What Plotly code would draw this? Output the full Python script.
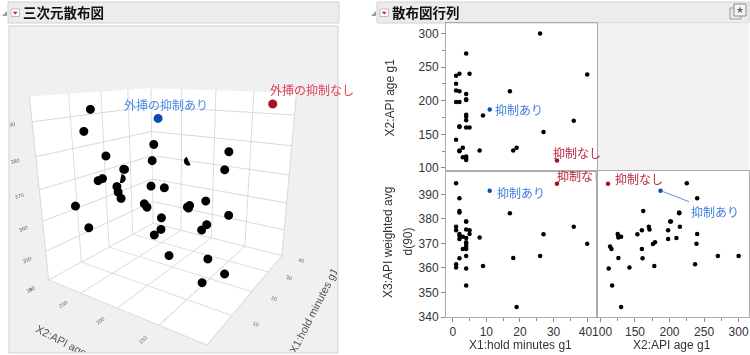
import plotly.graph_objects as go

# ---------------- data ----------------
x1_hold = [1, 2, 2, 2, 1, 1, 4, 4, 4, 5, 5, 2, 2, 3, 2, 1, 1, 4, 4, 4,
           4, 4, 2, 4, 4, 4, 3, 8, 9, 17, 18, 19, 26, 27, 36, 40]
x2_age = [225, 240, 162, 214, 215, 198, 202, 201, 171, 160, 240, 125, 126, 130, 198, 237, 142, 270, 210, 179,
          176, 160, 161, 117, 114, 112, 116, 126, 178, 214, 126, 130, 300, 153.5, 170, 239]
x3_wavg = [394.5, 388.4, 383.2, 382.6, 376.8, 375.4, 378.9, 378.9, 375.7, 375.4,
           373.8, 373.8, 373.1, 372.7, 371.8, 361.5, 360.2, 364.9, 372.2, 370.5,
           369.7, 367.7, 363.9, 352.8, 368.7, 359.8, 367.7, 372.4, 360.8, 382.3,
           364.0, 344.1, 364.9, 373.7, 376.8, 369.9]

# highlighted points: extrapolation control on / off
on_pt = dict(x1=11, x2=187, x3=391.5)
off_pt = dict(x1=31, x2=111, x3=394.3)

label3d_on = "外挿の抑制あり"
label3d_off = "外挿の抑制なし"
label_on = "抑制あり"
label_off = "抑制なし"

title_left = "三次元散布図"
title_right = "散布図行列"
name_x1 = "X1:hold minutes g1"
name_x2 = "X2:API age g1"
name_x3a = "X3:API weighted avg"
name_x3b = "d(90)"

x1_ticks = [0, 10, 20, 30, 40]
x1_ticktext = ["0", "10", "20", "30", "40\u00a0"]
x2_ticks = [100, 150, 200, 250, 300]
x2_ticktext = ["\u00a0100", "150", "200", "250", "300"]
x3_ticks = [340, 350, 360, 370, 380, 390]

# ---------------- styling ----------------
W, H = 750, 355
def px(v): return v / W
def py(v): return 1 - v / H

BLUE_PT, RED_PT = "#0b4db5", "#a80f25"
BLUE_TX, RED_TX = "#4a88e6", "#e23d55"
BLUE_TX2, RED_TX2 = "#3f7dd8", "#bb2540"
FONT = "Liberation Sans"
CJK = "Noto Sans CJK JP"

fig = go.Figure()

# ---------------- 3D scatter ----------------
m3 = 5.2
fig.add_trace(go.Scatter3d(x=x1_hold, y=x2_age, z=x3_wavg, mode="markers",
                           marker=dict(size=m3, color="black", line=dict(width=0)),
                           scene="scene", showlegend=False, hoverinfo="skip"))
fig.add_trace(go.Scatter3d(x=[on_pt["x1"]], y=[on_pt["x2"]], z=[on_pt["x3"]], mode="markers",
                           marker=dict(size=m3, color=BLUE_PT, line=dict(width=0)),
                           scene="scene", showlegend=False, hoverinfo="skip"))
fig.add_trace(go.Scatter3d(x=[off_pt["x1"]], y=[off_pt["x2"]], z=[off_pt["x3"]], mode="markers",
                           marker=dict(size=m3, color=RED_PT, line=dict(width=0)),
                           scene="scene", showlegend=False, hoverinfo="skip"))

ax3 = dict(showbackground=True, backgroundcolor="white", gridcolor="#d9d9d9",
           zeroline=False, showspikes=False, linecolor="#d0d0d0", showline=False,
           tickfont=dict(size=8, color="#666666", family=FONT),
           title=dict(font=dict(size=11, color="#555555", family=FONT)))

scene = dict(
    domain=dict(x=[px(10), px(337)], y=[py(352), py(27)]),
    bgcolor="#f0f0f0",
    aspectmode="cube",
    xaxis=dict(ax3, range=[0, 40], tickvals=x1_ticks, title=dict(ax3["title"], text=name_x1)),
    yaxis=dict(ax3, range=[100, 300], tickvals=x2_ticks, title=dict(ax3["title"], text=name_x2)),
    zaxis=dict(ax3, range=[340, 397], tickvals=x3_ticks,
               title=dict(ax3["title"], text=name_x3a + " " + name_x3b)),
    camera=dict(eye=dict(x=-1.759, y=-1.141, z=0.626), up=dict(x=0, y=0, z=1),
                center=dict(x=-0.001, y=-0.008, z=-0.016)),
    annotations=[
        dict(x=on_pt["x1"], y=on_pt["x2"], z=on_pt["x3"], text=label3d_on, showarrow=False,
             xanchor="center", xshift=8, yshift=14, font=dict(size=12, color=BLUE_TX, family=CJK)),
        dict(x=off_pt["x1"], y=off_pt["x2"], z=off_pt["x3"], text=label3d_off, showarrow=False,
             xanchor="left", xshift=-5, yshift=14, font=dict(size=12, color=RED_TX, family=CJK)),
    ],
)

# ---------------- scatterplot matrix ----------------
mk = dict(size=4.5, color="black")
pairs = [(x1_hold, x2_age, "x", "y"), (x1_hold, x3_wavg, "x2", "y2"), (x2_age, x3_wavg, "x3", "y3")]
for xs, ys, xa, ya in pairs:
    fig.add_trace(go.Scatter(x=xs, y=ys, mode="markers", marker=mk, xaxis=xa, yaxis=ya,
                             showlegend=False, hoverinfo="skip"))

cells = [("x1", "x2", "x", "y"), ("x1", "x3", "x2", "y2"), ("x2", "x3", "x3", "y3")]
for kx, ky, xa, ya in cells:
    fig.add_trace(go.Scatter(x=[on_pt[kx]], y=[on_pt[ky]], mode="markers",
                             marker=dict(size=4.5, color=BLUE_PT), xaxis=xa, yaxis=ya,
                             showlegend=False, hoverinfo="skip"))
    fig.add_trace(go.Scatter(x=[off_pt[kx]], y=[off_pt[ky]], mode="markers",
                             marker=dict(size=4.5, color=RED_PT), xaxis=xa, yaxis=ya,
                             showlegend=False, hoverinfo="skip"))

# clipped label for the off-point in the X1-X3 cell
fig.add_trace(go.Scatter(x=[off_pt["x1"]], y=[off_pt["x3"]], mode="text", text=[label_off],
                         textposition="top right", cliponaxis=True,
                         textfont=dict(size=12, color=RED_TX2, family=CJK),
                         xaxis="x2", yaxis="y2", showlegend=False, hoverinfo="skip"))

tickfont = dict(size=12, color="#333333", family=FONT)
base2 = dict(showgrid=False, zeroline=False, showline=True, mirror=True, linecolor="#ababab",
             linewidth=1, ticks="outside", ticklen=4, tickcolor="#8c8c8c", tickfont=tickfont,
             automargin=False)

X_L = [px(446), px(597.3)]
X_R = [px(597.3), px(749)]
Y_T = [py(171), py(23.3)]
Y_B = [py(317), py(171)]
R_X1 = [-2, 43]
R_X2 = [95.5, 315]
R_X3 = [340, 399.5]

layout_axes = dict(
    xaxis=dict(base2, domain=X_L, range=R_X1, anchor="y", showticklabels=False, ticks=""),
    yaxis=dict(base2, domain=Y_T, range=R_X2, anchor="x", tickvals=x2_ticks,
               minor=dict(dtick=25, ticks="outside", ticklen=3, tickcolor="#8c8c8c")),
    xaxis2=dict(base2, domain=X_L, range=R_X1, anchor="y2", tickvals=x1_ticks, ticktext=x1_ticktext,
                minor=dict(dtick=5, ticks="outside", ticklen=3, tickcolor="#8c8c8c")),
    yaxis2=dict(base2, domain=Y_B, range=R_X3, anchor="x2", tickvals=x3_ticks),
    xaxis3=dict(base2, domain=X_R, range=R_X2, anchor="y3", tickvals=x2_ticks, ticktext=x2_ticktext,
                minor=dict(dtick=25, ticks="outside", ticklen=3, tickcolor="#8c8c8c")),
    yaxis3=dict(base2, domain=Y_B, range=R_X3, anchor="x3", showticklabels=False, ticks=""),
)

ann = []
ann.append(dict(x=on_pt["x1"], y=on_pt["x2"], xref="x", yref="y", text=label_on, showarrow=False,
                xanchor="left", xshift=3, yshift=0, font=dict(size=12, color=BLUE_TX2, family=CJK)))
ann.append(dict(x=off_pt["x1"], y=off_pt["x2"], xref="x", yref="y", text=label_off, showarrow=False,
                xanchor="left", xshift=-6, yshift=8, font=dict(size=12, color=RED_TX2, family=CJK)))
ann.append(dict(x=on_pt["x1"], y=on_pt["x3"], xref="x2", yref="y2", text=label_on, showarrow=False,
                xanchor="left", xshift=5, yshift=-2, font=dict(size=12, color=BLUE_TX2, family=CJK)))
ann.append(dict(x=off_pt["x2"], y=off_pt["x3"], xref="x3", yref="y3", text=label_off, showarrow=False,
                xanchor="left", xshift=5, yshift=5, font=dict(size=12, color=RED_TX2, family=CJK)))
ann.append(dict(x=on_pt["x2"], y=on_pt["x3"], xref="x3", yref="y3", text=label_on, showarrow=True,
                arrowhead=0, arrowwidth=1, arrowcolor="#5b8fdc", ax=54, ay=21, standoff=2,
                font=dict(size=12, color=BLUE_TX2, family=CJK)))

tf = dict(size=12, color="#333333", family=FONT)
def paper_text(x, y, text, font, angle=0, xanchor="center"):
    ann.append(dict(x=px(x), y=py(y), xref="paper", yref="paper", text=text, textangle=angle,
                    xanchor=xanchor, yanchor="middle", showarrow=False, font=font))

paper_text(389, 97.5, name_x2, tf, -90)
paper_text(388, 243, name_x3a, tf, -90)
paper_text(407.5, 242, name_x3b, tf, -90)
paper_text(520, 345, name_x1, tf)
paper_text(671.7, 345, name_x2, tf)

hf = dict(size=13.5, color="#111111", family=CJK)
paper_text(21, 12.5, "<b>%s</b>" % title_left, hf, xanchor="left")
paper_text(390, 12.5, "<b>%s</b>" % title_right, hf, xanchor="left")
paper_text(740, 10, "★", dict(size=9, color="#666666", family="DejaVu Sans"))

shapes = []
def rect(x0, y0, x1, y1, fill, line, lw=1, layer="below"):
    shapes.append(dict(type="rect", xref="paper", yref="paper", x0=px(x0), x1=px(x1),
                       y0=py(y1), y1=py(y0), fillcolor=fill, line=dict(color=line, width=lw), layer=layer))

def tri(path_pts, color):
    d = "M " + " L ".join("%f,%f" % (px(a), py(b)) for a, b in path_pts) + " Z"
    shapes.append(dict(type="path", xref="paper", yref="paper", path=d, fillcolor=color,
                       line=dict(width=0), layer="above"))

# header bars, icons, panel frames
rect(8, 2, 339, 23, "#ececec", "#d2d2d2")
rect(377, 2, 749, 23, "#ececec", "#d2d2d2")
tri([(7, 11), (7, 16), (2, 16)], "#9a9a9a")
tri([(376, 11), (376, 16), (371, 16)], "#9a9a9a")
rect(11, 9, 19.5, 16.5, "white", "#bdbdbd", layer="above")
tri([(12.8, 11.8), (17.7, 11.8), (15.25, 14.6)], "#d01c1c")
rect(380, 9, 388.5, 16.5, "white", "#bdbdbd", layer="above")
tri([(381.8, 11.8), (386.7, 11.8), (384.25, 14.6)], "#d01c1c")
rect(730, 8, 741, 19, "rgba(0,0,0,0)", "#9a9a9a", layer="above")
rect(734, 4, 746, 16, "#f4f4f4", "#8a8a8a", layer="above")
rect(9, 26, 338, 353, "#f0f0f0", "#cfcfcf")
rect(597.3, 23.3, 749, 171, "#f2f2f2", "rgba(0,0,0,0)", lw=0)

fig.update_layout(width=W, height=H, margin=dict(l=0, r=0, t=0, b=0, pad=0, autoexpand=False),
                  paper_bgcolor="white", plot_bgcolor="white",
                  scene=scene, annotations=ann, shapes=shapes, showlegend=False,
                  **layout_axes)

fig.write_html("out.html", config={"displayModeBar": False},
               post_script="document.body.style.margin='0px';document.body.style.padding='0px';"
                           "document.body.style.overflow='hidden';")
